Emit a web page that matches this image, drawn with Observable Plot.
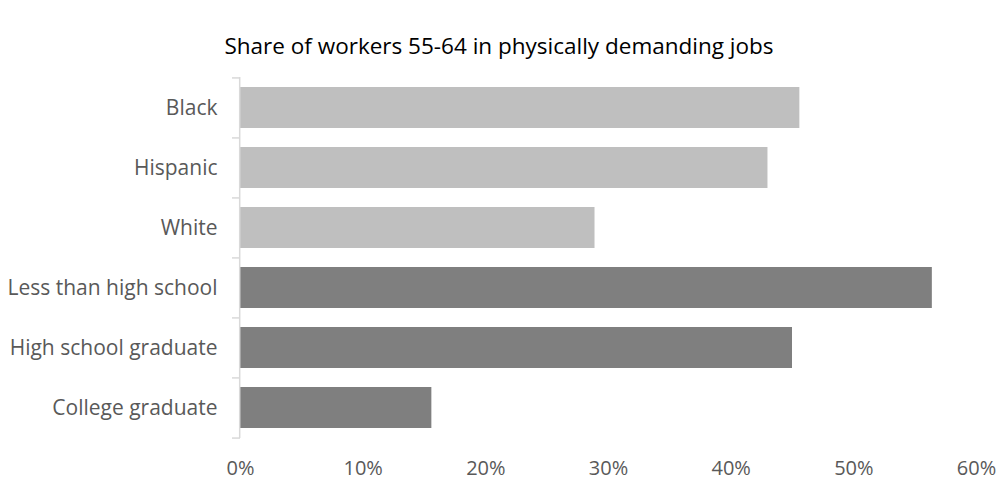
<!DOCTYPE html>
<html>
<head>
<meta charset="utf-8">
<script src="https://cdn.jsdelivr.net/npm/d3@7"></script>
<script src="https://cdn.jsdelivr.net/npm/@observablehq/plot@0.6"></script>
<style>
  html, body { margin: 0; padding: 0; background: #fff; overflow: hidden; }
  #title { height: 62px; box-sizing: border-box; padding-top: 32px; line-height: 28px; text-align: center;
           font-family: "Open Sans", sans-serif; font-size: 22.5px; color: #000; width: 998px; }
  #chart svg { display: block; }
</style>
</head>
<body>
<div id="title">Share of workers 55-64 in physically demanding jobs</div>
<div id="chart"></div>
<script>
const categories = ["Black", "Hispanic", "White", "Less than high school", "High school graduate", "College graduate"];
const groups = ["race", "race", "race", "edu", "edu", "edu"];
const values = [0.456, 0.430, 0.289, 0.564, 0.450, 0.156];
const xTicks = [0, 0.1, 0.2, 0.3, 0.4, 0.5, 0.6];

const data = categories.map((c, i) => ({category: c, group: groups[i], value: values[i]}));

const W = 998, H = 419, mT = 15, mB = 43, mL = 240, mR = 22;
const step = (H - mT - mB) / categories.length;

const chart = Plot.plot({
  width: W, height: H,
  marginTop: mT, marginBottom: mB, marginLeft: mL, marginRight: mR,
  style: {fontFamily: "'Open Sans', sans-serif", fontSize: "21px", color: "#595959", background: "#fff"},
  x: {domain: [0, 0.6]},
  y: {domain: categories, paddingInner: 0.31, paddingOuter: 0.155},
  color: {domain: ["race", "edu"], range: ["#bfbfbf", "#7f7f7f"]},
  marks: [
    Plot.barX(data, {x: "value", y: "category", fill: "group"}),
    Plot.ruleX([0], {stroke: "#d9d9d9", strokeWidth: 1.5, dx: -0.8}),
    Plot.axisY({tickSize: 8, tickFormat: () => "", dy: -step / 2, stroke: "#d9d9d9", strokeWidth: 1.5, label: null}),
    Plot.axisY({ticks: [categories[categories.length - 1]], tickSize: 8, tickFormat: () => "", dy: step / 2, stroke: "#d9d9d9", strokeWidth: 1.5, label: null}),
    Plot.axisY({tickSize: 0, tickPadding: 23, fill: "#595959", fontSize: 21, label: null}),
    Plot.axisX({ticks: xTicks, tickFormat: d3.format(".0%"), tickSize: 0, tickPadding: 22, fill: "#595959", fontSize: 20, label: null})
  ]
});
document.getElementById("chart").appendChild(chart);
</script>
</body>
</html>
